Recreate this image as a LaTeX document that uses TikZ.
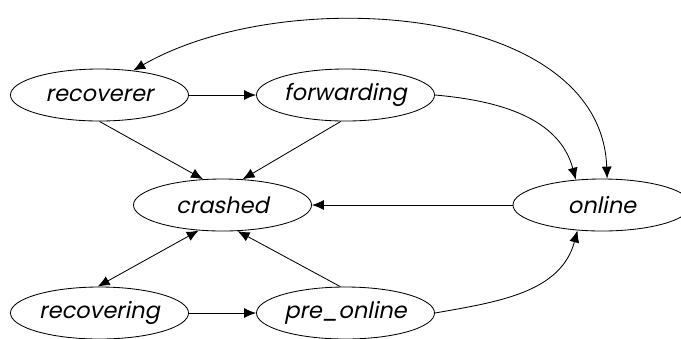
\documentclass[tikz,border=0pt]{standalone}
\usepackage{fontspec}
\newfontfamily\nodefont{Poppins}[FakeSlant=0.2]
\usetikzlibrary{arrows.meta, shapes.geometric}

\begin{document}
\begin{tikzpicture}[x=0.025cm, y=-0.025cm,
    phase/.style={draw, ellipse, line width=0.6pt, minimum width=4.45cm,
                  minimum height=1.3cm, inner sep=0pt,
                  font=\nodefont\fontsize{16}{18}\selectfont},
    arr/.style={-{Latex[length=3mm, width=2.5mm]}, line width=0.6pt},
    biarr/.style={{Latex[length=3mm, width=2.5mm]}-{Latex[length=3mm, width=2.5mm]}, line width=0.6pt}
  ]
    \useasboundingbox (0, 0) rectangle (681, 338);

    \node[phase] (rec) at (99.5, 95) {recoverer};
    \node[phase] (fw) at (345.5, 95) {forwarding};
    \node[phase] (cr) at (222.5, 205) {crashed};
    \node[phase] (on) at (602, 205) {online};
    \node[phase] (rcv) at (99.5, 313) {recovering};
    \node[phase] (pre) at (345.5, 313) {pre\_online};

    \draw[arr] (rec.east) -- (fw.west);
    \draw[arr] (rec.south) -- (cr.127);
    \draw[arr] (fw.260) -- (cr.52);
    \draw[arr] (fw.east) to[out=-5, in=105] (on.136);
    \draw[biarr] (on.79) to[out=92, in=30, looseness=0.92] (rec.36);
    \draw[arr] (on.west) -- (cr.east);
    \draw[biarr] (cr.-133) -- (rcv.94);
    \draw[arr] (pre.101) -- (cr.-60);
    \draw[arr] (rcv.east) -- (pre.west);
    \draw[arr] (pre.east) to[out=10, in=-105] (on.-134);
\end{tikzpicture}
\end{document}
